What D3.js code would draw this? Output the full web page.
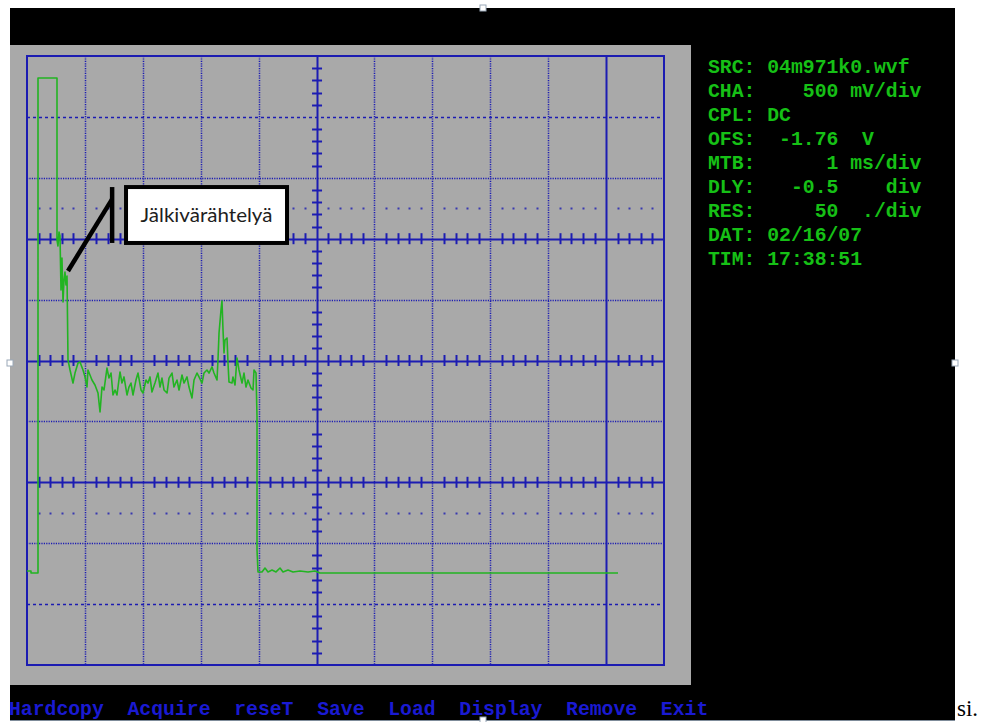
<!DOCTYPE html>
<html>
<head>
<meta charset="utf-8">
<script src="https://cdn.jsdelivr.net/npm/d3@7"></script>
<style>
  html, body { margin: 0; padding: 0; background: #ffffff; }
  svg { display: block; }
  .mono { font-family: "Liberation Mono", "DejaVu Sans Mono", monospace; white-space: pre; }
</style>
</head>
<body>
<svg id="scope" width="984" height="722"></svg>
<script>
// Captured waveform: time in ms (1 ms/div), level in V (500 mV/div, screen bottom = 0 V)
const timeMs = [
  0.000, 0.069, 0.069, 0.190, 0.190, 0.501, 0.518, 0.518, 0.535, 0.553,
  0.570, 0.587, 0.604, 0.622, 0.639, 0.656, 0.673, 0.691, 0.708, 0.743,
  0.794, 0.829, 0.881, 0.915, 0.967, 1.002, 1.036, 1.053, 1.122, 1.174,
  1.226, 1.261, 1.295, 1.330, 1.381, 1.416, 1.451, 1.485, 1.520, 1.554,
  1.606, 1.640, 1.675, 1.727, 1.761, 1.796, 1.830, 1.882, 1.917, 1.969,
  2.003, 2.055, 2.089, 2.124, 2.158, 2.210, 2.262, 2.297, 2.331, 2.366,
  2.418, 2.452, 2.504, 2.538, 2.590, 2.625, 2.677, 2.711, 2.763, 2.797,
  2.849, 2.884, 2.936, 2.970, 3.022, 3.056, 3.108, 3.143, 3.195, 3.229,
  3.281, 3.298, 3.316, 3.350, 3.367, 3.385, 3.402, 3.419, 3.454, 3.471,
  3.488, 3.540, 3.557, 3.592, 3.626, 3.661, 3.713, 3.747, 3.782, 3.816,
  3.868, 3.903, 3.920, 3.955, 3.972, 3.972, 3.989, 4.058, 4.110, 4.162,
  4.231, 4.300, 4.369, 4.421, 4.507, 4.593, 4.714, 4.852, 4.973, 5.060,
  10.206
];
const volts = [
  0.772, 0.772, 0.755, 0.755, 4.819, 4.819, 4.819, 3.489, 3.440, 3.555,
  3.522, 3.079, 3.342, 2.980, 3.161, 3.227, 3.120, 3.194, 2.504, 2.422,
  2.315, 2.397, 2.479, 2.488, 2.422, 2.365, 2.282, 2.422, 2.340, 2.299,
  2.233, 2.077, 2.282, 2.258, 2.438, 2.356, 2.397, 2.217, 2.258, 2.217,
  2.406, 2.315, 2.365, 2.217, 2.282, 2.315, 2.217, 2.340, 2.397, 2.258,
  2.233, 2.340, 2.315, 2.365, 2.241, 2.315, 2.397, 2.282, 2.356, 2.258,
  2.233, 2.356, 2.397, 2.282, 2.340, 2.258, 2.381, 2.315, 2.365, 2.282,
  2.192, 2.340, 2.397, 2.365, 2.315, 2.397, 2.422, 2.397, 2.447, 2.397,
  2.340, 2.504, 2.726, 2.915, 2.989, 2.750, 2.562, 2.668, 2.685, 2.479,
  2.323, 2.315, 2.365, 2.299, 2.521, 2.422, 2.315, 2.397, 2.282, 2.340,
  2.274, 2.258, 2.422, 2.397, 2.036, 0.944, 0.764, 0.764, 0.796, 0.764,
  0.780, 0.764, 0.796, 0.764, 0.780, 0.764, 0.772, 0.764, 0.772, 0.755,
  0.755
];

// Settings readout on the right of the screen
const infoLines = [
  "SRC: 04m971k0.wvf",
  "CHA:    500 mV/div",
  "CPL: DC",
  "OFS:  -1.76  V",
  "MTB:      1 ms/div",
  "DLY:   -0.5    div",
  "RES:     50  ./div",
  "DAT: 02/16/07",
  "TIM: 17:38:51"
];

// Soft-key menu along the bottom
const menuItems = ["Hardcopy", "Acquire", "reseT", "Save", "Load", "Display", "Remove", "Exit"];

// Callout text and the point in the trace it points at (ms, V)
const calloutText = "Jälkivärähtelyä";
const calloutTarget = [0.708, 3.235];

const svg = d3.select("#scope");
const BLUE = "#1c1cb2", GREEN = "#22b422", GRAY = "#a9a9a9";

// Screen frame: black monitor area with the grey graticule panel
svg.append("rect").attr("x", 10).attr("y", 8).attr("width", 945).attr("height", 712).attr("fill", "#000");
svg.append("rect").attr("x", 10).attr("y", 45).attr("width", 681).attr("height", 640).attr("fill", GRAY);
svg.append("line").attr("x1", 10).attr("x2", 955).attr("y1", 720.5).attr("y2", 720.5)
  .attr("stroke", "#7f8c9a").attr("stroke-width", 1);

// Scales: 11 horizontal divisions of 1 ms, 10 vertical divisions of 0.5 V
const x = d3.scaleLinear().domain([0, 11]).range([27, 664]);
const y = d3.scaleLinear().domain([0, 5]).range([665, 56]);
const grid = svg.append("g");

const xDivs = d3.range(1, 11);
const yDivs = d3.range(1, 10).map(k => k * 0.5);

// Horizontal graticule lines
const hStyle = v => {
  const k = Math.round(v / 0.5);
  if (k === 3 || k === 5 || k === 7) return "solid";
  if (k === 1 || k === 9) return "dashed";
  return "dotted";
};
yDivs.forEach(v => {
  const s = hStyle(v);
  grid.append("line")
    .attr("x1", x(0)).attr("x2", x(11))
    .attr("y1", Math.round(y(v)) + 0.5).attr("y2", Math.round(y(v)) + 0.5)
    .attr("stroke", BLUE)
    .attr("stroke-width", s === "solid" ? 2 : 1.5)
    .attr("stroke-dasharray", s === "solid" ? null : s === "dashed" ? "3,3" : "1.2,1.2");
});

// Vertical graticule lines
xDivs.forEach(t => {
  const solid = t === 5 || t === 10;
  grid.append("line")
    .attr("x1", Math.round(x(t)) + 0.5).attr("x2", Math.round(x(t)) + 0.5)
    .attr("y1", y(5)).attr("y2", y(0))
    .attr("stroke", BLUE)
    .attr("stroke-width", solid ? 2 : 1.5)
    .attr("stroke-dasharray", solid ? null : "1.2,1.2");
});

// Minor ticks (fifths) on the three solid horizontal axes
const minorX = d3.range(0, 55).map(i => i * 0.2).filter(t => Math.abs(t - Math.round(t)) > 0.05);
[1.5, 2.5, 3.5].forEach(v => {
  grid.selectAll(null).data(minorX).join("line")
    .attr("x1", t => Math.round(x(t)) + 0.5).attr("x2", t => Math.round(x(t)) + 0.5)
    .attr("y1", y(v) - 5.5).attr("y2", y(v) + 5.5)
    .attr("stroke", BLUE).attr("stroke-width", 2);
});
// Minor ticks on the centre vertical axis
const minorY = d3.range(0, 50).map(i => i * 0.1).filter(v => Math.abs(v / 0.5 - Math.round(v / 0.5)) > 0.05);
grid.selectAll(null).data(minorY).join("line")
  .attr("x1", x(5) - 4.5).attr("x2", x(5) + 5.5)
  .attr("y1", v => Math.round(y(v)) + 0.5).attr("y2", v => Math.round(y(v)) + 0.5)
  .attr("stroke", BLUE).attr("stroke-width", 2);

// Sparse dot rows between graticule lines
[1.25, 3.75].forEach(v => {
  grid.selectAll(null).data(minorX).join("rect")
    .attr("x", t => Math.round(x(t)) - 0.5).attr("y", Math.round(y(v)) - 0.5)
    .attr("width", 2).attr("height", 2).attr("fill", BLUE).attr("opacity", 0.8);
});

// Border of the graticule
grid.append("rect")
  .attr("x", x(0)).attr("y", y(5))
  .attr("width", x(11) - x(0)).attr("height", y(0) - y(5))
  .attr("fill", "none").attr("stroke", BLUE).attr("stroke-width", 2);

// The trace
const pts = timeMs.map((t, i) => [t, volts[i]]);
svg.append("path")
  .datum(pts)
  .attr("fill", "none")
  .attr("stroke", GREEN)
  .attr("stroke-width", 1.6)
  .attr("stroke-linejoin", "round")
  .attr("d", d3.line().x(d => x(d[0])).y(d => y(d[1])));

// Callout: leader line, accent bar and text box
const ann = svg.append("g");
const barX = x(1.47), barTop = y(3.924), barBot = y(3.465);
ann.append("line")
  .attr("x1", x(calloutTarget[0])).attr("y1", y(calloutTarget[1]))
  .attr("x2", barX).attr("y2", barTop + 12)
  .attr("stroke", "#000").attr("stroke-width", 4.5);
ann.append("line")
  .attr("x1", barX).attr("x2", barX).attr("y1", barTop).attr("y2", barBot)
  .attr("stroke", "#000").attr("stroke-width", 4.5);
const boxX0 = x(1.71), boxX1 = x(4.49);
ann.append("rect")
  .attr("x", boxX0).attr("y", barTop)
  .attr("width", boxX1 - boxX0).attr("height", barBot - barTop)
  .attr("fill", "#fff").attr("stroke", "#000").attr("stroke-width", 4);
ann.append("text")
  .attr("x", (boxX0 + boxX1) / 2).attr("y", barTop + 35)
  .attr("text-anchor", "middle")
  .attr("font-family", "Lato, 'Open Sans', sans-serif")
  .attr("font-size", 18.5)
  .attr("fill", "#1e1e1e")
  .attr("textLength", 132)
  .attr("lengthAdjust", "spacingAndGlyphs")
  .text(calloutText);

// Settings readout
svg.append("g").selectAll("text").data(infoLines).join("text")
  .attr("class", "mono")
  .attr("x", 708).attr("y", (d, i) => 73 + i * 24)
  .attr("font-size", 19.75).attr("font-weight", "bold")
  .attr("fill", "#16c016")
  .text(d => d);

// Menu bar
svg.append("text")
  .attr("class", "mono")
  .attr("x", 9).attr("y", 715)
  .attr("font-size", 19.75).attr("font-weight", "bold")
  .attr("fill", "#1a1ad2")
  .text(menuItems.join("  "));

// Trailing word of the surrounding page
svg.append("text")
  .attr("x", 957).attr("y", 716)
  .attr("font-family", "'Liberation Serif', 'DejaVu Serif', serif")
  .attr("font-size", 23).attr("fill", "#000")
  .text("si.");

// Selection handles around the embedded image
[[483, 8], [10, 363], [955, 363], [483, 720]].forEach(([hx, hy]) => {
  svg.append("rect").attr("x", hx - 3).attr("y", hy - 3).attr("width", 6).attr("height", 6)
    .attr("fill", "#fff").attr("stroke", "#9aa8b8").attr("stroke-width", 1);
});
</script>
</body>
</html>
